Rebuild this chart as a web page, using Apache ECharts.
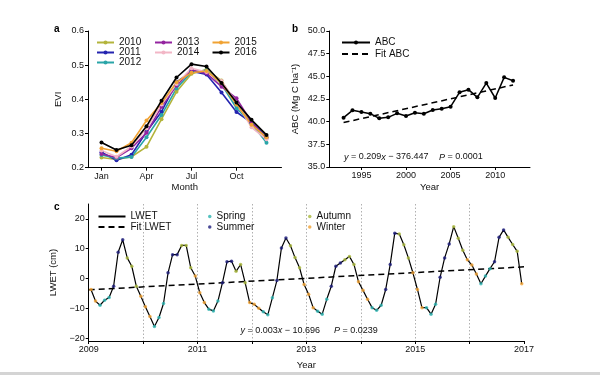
<!DOCTYPE html>
<html>
<head>
<meta charset="utf-8">
<script src="https://cdn.jsdelivr.net/npm/echarts@6/dist/echarts.min.js"></script>
<style>
html, body { margin: 0; padding: 0; background: #fff; }
#main { width: 600px; height: 375px; }
</style>
</head>
<body>
<div id="main"></div>
<script>
// panel a: monthly EVI per year
var months = [1, 2, 3, 4, 5, 6, 7, 8, 9, 10, 11, 12];
var monthTicks = [1, 4, 7, 10];
var monthTickLabels = ['Jan', 'Apr', 'Jul', 'Oct'];
var eviYears = ['2010', '2011', '2012', '2013', '2014', '2015', '2016'];
var evi2010 = [0.230, 0.224, 0.232, 0.261, 0.342, 0.422, 0.475, 0.487, 0.455, 0.385, 0.330, 0.288];
var evi2011 = [0.245, 0.222, 0.238, 0.305, 0.364, 0.450, 0.482, 0.473, 0.420, 0.363, 0.332, 0.290];
var evi2012 = [0.237, 0.228, 0.231, 0.289, 0.354, 0.432, 0.480, 0.485, 0.445, 0.374, 0.330, 0.273];
var evi2013 = [0.240, 0.230, 0.257, 0.302, 0.378, 0.440, 0.486, 0.476, 0.437, 0.403, 0.333, 0.287];
var evi2014 = [0.250, 0.232, 0.262, 0.315, 0.385, 0.445, 0.491, 0.480, 0.454, 0.390, 0.318, 0.283];
var evi2015 = [0.257, 0.248, 0.273, 0.338, 0.389, 0.450, 0.478, 0.483, 0.447, 0.385, 0.326, 0.289];
var evi2016 = [0.274, 0.252, 0.266, 0.321, 0.396, 0.464, 0.503, 0.496, 0.448, 0.391, 0.340, 0.296];
var eviColors = ['#b3b43c', '#2424b0', '#2aa5a8', '#9424a0', '#f2b6c6', '#f0a233', '#000000'];

// panel b: ABC by year
var abcYears = [1993, 1994, 1995, 1996, 1997, 1998, 1999, 2000, 2001, 2002,
                2003, 2004, 2005, 2006, 2007, 2008, 2009, 2010, 2011, 2012];
var abcValues = [40.44, 41.25, 41.07, 40.88, 40.37, 40.48, 40.92, 40.63, 40.99, 40.88,
                 41.29, 41.43, 41.65, 43.24, 43.53, 42.68, 44.26, 42.61, 44.89, 44.52];
var abcFitYears = [1993, 2012];
var abcFitValues = [39.9, 44.05];
var abcTicks = [1995, 2000, 2005, 2010];

// panel c: monthly LWET 2009-2016
var lwetYears = [2009, 2010, 2011, 2012, 2013, 2014, 2015, 2016];
var lwet2009 = [-3.7, -7.6, -9.0, -7.3, -6.4, -2.6, 8.8, 13.0, 6.9, 4.1, -2.6, -6.0];
var lwet2010 = [-9.5, -12.8, -16.1, -13.1, -8.4, 1.9, 8.0, 8.0, 11.1, 11.1, 3.6, 0.8];
var lwet2011 = [-4.8, -8.1, -10.3, -10.9, -7.6, -1.4, 5.6, 5.8, 2.4, 4.7, -1.4, -8.1];
var lwet2012 = [-8.7, -10.0, -11.2, -12.2, -6.5, -0.7, 10.2, 13.6, 11.0, 7.0, 3.6, -2.0];
var lwet2013 = [-5.3, -9.8, -11.0, -12.0, -7.0, -2.6, 4.1, 5.2, 6.3, 7.4, 4.7, -1.1];
var lwet2014 = [-4.0, -7.0, -9.8, -10.7, -9.0, -3.7, 4.7, 15.2, 14.9, 11.3, 6.9, 1.9];
var lwet2015 = [-3.7, -9.8, -9.8, -12.0, -8.7, 0.4, 6.9, 11.6, 17.4, 13.5, 9.5, 6.3];
var lwet2016 = [4.5, 1.5, -1.8, 0.8, 3.3, 5.6, 13.8, 16.3, 13.8, 11.4, 9.1, -1.8];
var lwetFitYears = [2009, 2017];
var lwetFitValues = [-3.8, 3.9];
var seasonNames = ['Spring', 'Summer', 'Autumn', 'Winter'];
var seasonColors = ['#2bb3b0', '#1c1c7c', '#a9b83b', '#f0a030'];
var lwetTicks = [-20, -10, 0, 10, 20];

var font = 'Liberation Sans';

function seasonOf(m) {
    if (m >= 3 && m <= 5) return 0;
    if (m >= 6 && m <= 8) return 1;
    if (m >= 9 && m <= 11) return 2;
    return 3;
}

function minusFmt(v) {
    return v < 0 ? '\u2212' + Math.abs(v) : String(v);
}

// build panel data
var eviAll = [evi2010, evi2011, evi2012, evi2013, evi2014, evi2015, evi2016];
var lwetAll = [lwet2009, lwet2010, lwet2011, lwet2012, lwet2013, lwet2014, lwet2015, lwet2016];
var lwetLine = [];
var seasonPts = [[], [], [], []];
lwetYears.forEach(function (yr, i) {
    lwetAll[i].forEach(function (v, j) {
        var t = yr + (months[j] - 0.5) / 12;
        lwetLine.push([t, v]);
        seasonPts[seasonOf(months[j])].push([t, v]);
    });
});

function axisBase() {
    return {
        type: 'value',
        axisLine: { onZero: false, lineStyle: { color: '#000', width: 1 } },
        axisTick: { length: 3, lineStyle: { color: '#000' } },
        axisLabel: { color: '#111', fontSize: 9, fontFamily: font, margin: 4 },
        splitLine: { show: false },
        nameTextStyle: { color: '#111', fontSize: 9.5, fontFamily: font },
        nameLocation: 'middle'
    };
}

function ax(extra) {
    var a = axisBase();
    for (var k in extra) {
        if (typeof extra[k] === 'object' && a[k] && !Array.isArray(extra[k])) {
            for (var kk in extra[k]) a[k][kk] = extra[k][kk];
        } else {
            a[k] = extra[k];
        }
    }
    return a;
}

var series = [];
eviYears.forEach(function (name, i) {
    series.push({
        name: name,
        type: 'line',
        xAxisIndex: 0,
        yAxisIndex: 0,
        data: months.map(function (m, j) { return [m, eviAll[i][j]]; }),
        symbol: 'circle',
        symbolSize: 4,
        color: eviColors[i],
        lineStyle: { width: 1.6 },
        z: i === 6 ? 5 : 3
    });
});
series.push({
    name: 'ABC',
    type: 'line',
    xAxisIndex: 1,
    yAxisIndex: 1,
    data: abcYears.map(function (y, i) { return [y, abcValues[i]]; }),
    symbol: 'circle',
    symbolSize: 4,
    color: '#000',
    lineStyle: { width: 1.5 }
});
series.push({
    name: 'Fit ABC',
    type: 'line',
    xAxisIndex: 1,
    yAxisIndex: 1,
    data: abcFitYears.map(function (y, i) { return [y, abcFitValues[i]]; }),
    symbol: 'none',
    color: '#000',
    lineStyle: { width: 1.5, type: [6, 4] }
});
series.push({
    name: 'LWET',
    type: 'line',
    xAxisIndex: 2,
    yAxisIndex: 2,
    data: lwetLine,
    symbol: 'none',
    color: '#000',
    lineStyle: { width: 1.2 }
});
series.push({
    name: 'Fit LWET',
    type: 'line',
    xAxisIndex: 2,
    yAxisIndex: 2,
    data: lwetFitYears.map(function (y, i) { return [y, lwetFitValues[i]]; }),
    symbol: 'none',
    color: '#000',
    lineStyle: { width: 1.5, type: [6, 4] }
});
seasonNames.forEach(function (name, i) {
    series.push({
        name: name,
        type: 'scatter',
        xAxisIndex: 2,
        yAxisIndex: 2,
        data: seasonPts[i],
        symbolSize: 3.5,
        color: seasonColors[i],
        z: 6
    });
});

var legendText = { fontSize: 10, fontFamily: font, color: '#111' };
var hideDot = { opacity: 0 };

var option = {
    animation: false,
    backgroundColor: '#fff',
    textStyle: { fontFamily: font },
    grid: [
        { left: 88, top: 31, width: 193.5, height: 136.7, outerBoundsMode: 'none' },
        { left: 329.3, top: 31, width: 200.7, height: 136, outerBoundsMode: 'none' },
        { left: 88.7, top: 204, width: 435.3, height: 137, outerBoundsMode: 'none' }
    ],
    xAxis: [
        ax({
            gridIndex: 0, min: 0.1, max: 13,
            name: 'Month', nameGap: 15,
            axisLabel: {
                customValues: monthTicks,
                formatter: function (v) {
                    var i = monthTicks.indexOf(Math.round(v));
                    return i >= 0 ? monthTickLabels[i] : '';
                }
            },
            axisTick: { customValues: monthTicks }
        }),
        ax({
            gridIndex: 1, min: 1991.4, max: 2013.9,
            name: 'Year', nameGap: 15,
            axisLabel: { customValues: abcTicks, formatter: function (v) { return String(v); } },
            axisTick: { customValues: abcTicks }
        }),
        ax({
            gridIndex: 2, min: 2009, max: 2017, interval: 1,
            name: 'Year', nameGap: 19,
            axisLabel: {
                formatter: function (v) { return v % 2 === 1 ? String(v) : ''; },
                showMinLabel: true, showMaxLabel: true
            },
            splitLine: {
                show: true, showMinLine: false, showMaxLine: false,
                lineStyle: { color: '#b0b0b0', type: [1.5, 2], width: 1 }
            }
        })
    ],
    yAxis: [
        ax({
            gridIndex: 0, min: 0.2, max: 0.6, interval: 0.1,
            name: 'EVI', nameGap: 25,
            axisLabel: { formatter: function (v) { return v.toFixed(1); } }
        }),
        ax({
            gridIndex: 1, min: 35, max: 50, interval: 2.5,
            name: 'ABC (Mg C ha\u207B\u00B9)', nameGap: 29,
            axisLabel: { formatter: function (v) { return v.toFixed(1); } }
        }),
        ax({
            gridIndex: 2, min: -21, max: 25,
            name: 'LWET (cm)', nameGap: 26,
            axisLabel: { customValues: lwetTicks, formatter: minusFmt },
            axisTick: { customValues: lwetTicks }
        })
    ],
    legend: [
        {
            data: ['2010', '2011', '2012'], orient: 'vertical', left: 96, top: 37.5,
            itemWidth: 17, itemHeight: 5, itemGap: 0, padding: 0, textStyle: legendText
        },
        {
            data: ['2013', '2014'], orient: 'vertical', left: 154, top: 37.5,
            itemWidth: 17, itemHeight: 5, itemGap: 0, padding: 0, textStyle: legendText
        },
        {
            data: ['2015', '2016'], orient: 'vertical', left: 211.5, top: 37.5,
            itemWidth: 17, itemHeight: 5, itemGap: 0, padding: 0, textStyle: legendText
        },
        {
            data: ['ABC', { name: 'Fit ABC', itemStyle: hideDot }],
            orient: 'vertical', left: 341, top: 37.5,
            itemWidth: 28, itemHeight: 5, itemGap: 1.5, padding: 0, textStyle: legendText
        },
        {
            data: [{ name: 'LWET', itemStyle: hideDot }, { name: 'Fit LWET', itemStyle: hideDot }],
            orient: 'vertical', left: 97.5, top: 211.5,
            itemWidth: 27, itemHeight: 5, itemGap: 0.5, padding: 0, textStyle: legendText
        },
        {
            data: ['Spring', 'Summer'], orient: 'vertical', left: 208, top: 211.5,
            icon: 'circle', itemWidth: 3.5, itemHeight: 5, itemGap: 0.5, padding: 0, textStyle: legendText
        },
        {
            data: ['Autumn', 'Winter'], orient: 'vertical', left: 308, top: 211.5,
            icon: 'circle', itemWidth: 3.5, itemHeight: 5, itemGap: 0.5, padding: 0, textStyle: legendText
        }
    ],
    title: [
        { text: 'a', left: 54, top: 24, padding: 0, textStyle: { fontSize: 10, fontWeight: 'bold', color: '#000', fontFamily: font } },
        { text: 'b', left: 292, top: 24, padding: 0, textStyle: { fontSize: 10, fontWeight: 'bold', color: '#000', fontFamily: font } },
        { text: 'c', left: 54, top: 202, padding: 0, textStyle: { fontSize: 10, fontWeight: 'bold', color: '#000', fontFamily: font } },
        {
            text: '{i|y} = 0.209{i|x} \u2212 376.447', left: 344, top: 152.5, padding: 0,
            textStyle: { fontSize: 9, fontWeight: 'normal', color: '#111', fontFamily: font,
                rich: { i: { fontStyle: 'italic', fontSize: 9, fontFamily: font, color: '#111' } } }
        },
        {
            text: '{i|P} = 0.0001', left: 439, top: 152.5, padding: 0,
            textStyle: { fontSize: 9, fontWeight: 'normal', color: '#111', fontFamily: font,
                rich: { i: { fontStyle: 'italic', fontSize: 9, fontFamily: font, color: '#111' } } }
        },
        {
            text: '{i|y} = 0.003{i|x} \u2212 10.696', left: 240.5, top: 326, padding: 0,
            textStyle: { fontSize: 9, fontWeight: 'normal', color: '#111', fontFamily: font,
                rich: { i: { fontStyle: 'italic', fontSize: 9, fontFamily: font, color: '#111' } } }
        },
        {
            text: '{i|P} = 0.0239', left: 334, top: 326, padding: 0,
            textStyle: { fontSize: 9, fontWeight: 'normal', color: '#111', fontFamily: font,
                rich: { i: { fontStyle: 'italic', fontSize: 9, fontFamily: font, color: '#111' } } }
        }
    ],
    graphic: [
        { type: 'rect', shape: { x: 0, y: 372, width: 600, height: 3 }, style: { fill: '#d4d4d4' }, silent: true }
    ],
    series: series
};

var chart = echarts.init(document.getElementById('main'));
chart.setOption(option);
</script>
</body>
</html>
